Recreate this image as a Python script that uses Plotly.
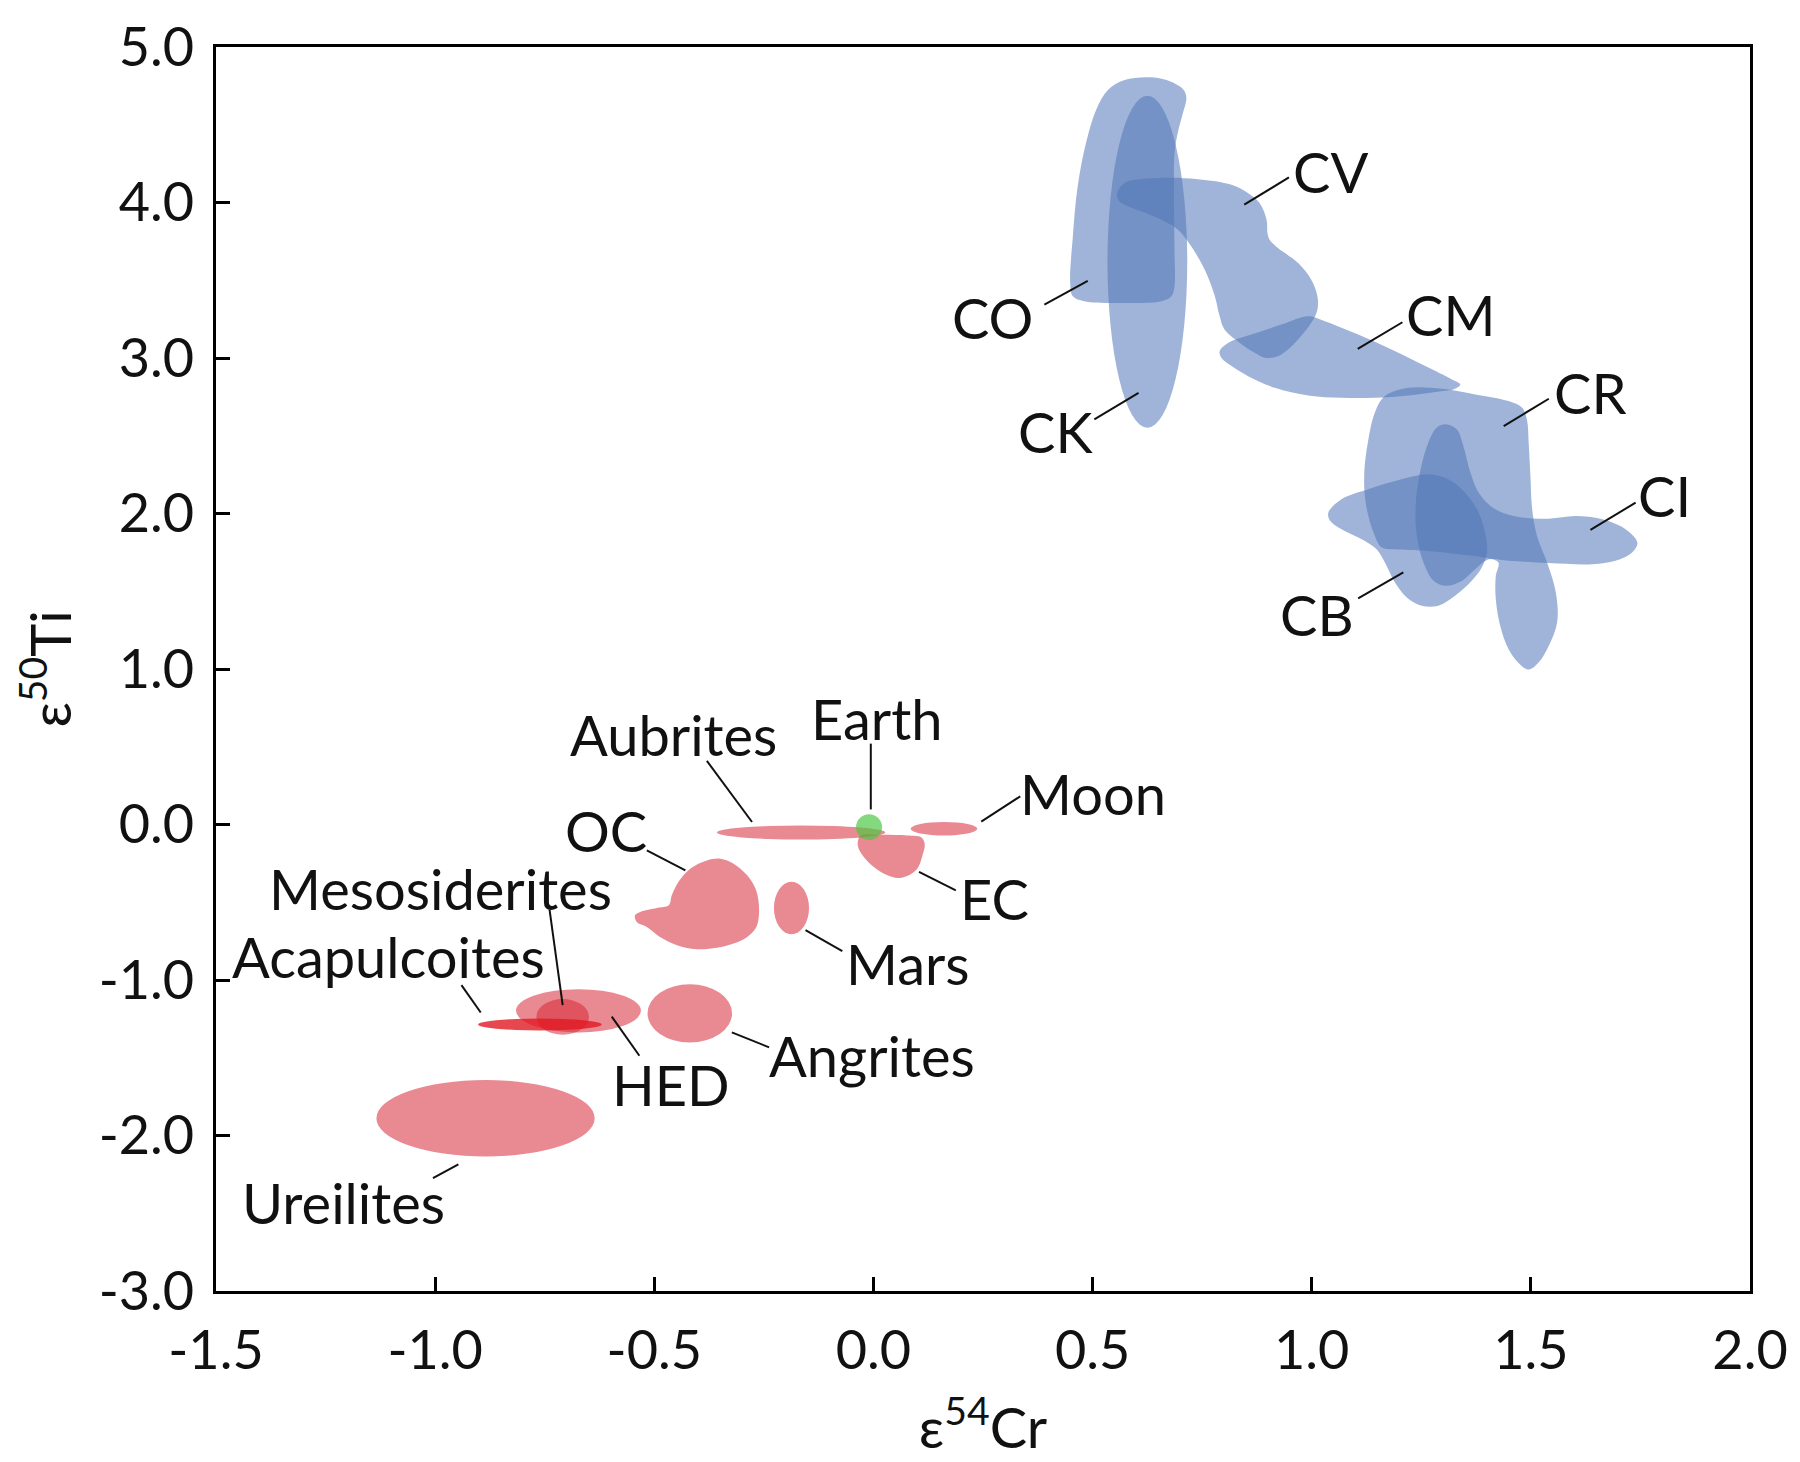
import plotly.graph_objects as go

# --- blob outlines (data coords: eps54Cr, eps50Ti) ---
CO_X = [0.634, 0.679, 0.708, 0.714, 0.706, 0.695, 0.687, 0.686, 0.687, 0.687, 0.680, 0.657,
        0.573, 0.481, 0.455, 0.449, 0.455, 0.466, 0.485, 0.508, 0.535, 0.573]
CO_Y = [4.805, 4.777, 4.724, 4.670, 4.574, 4.456, 4.317, 3.996, 3.675, 3.461, 3.397, 3.365,
        3.354, 3.365, 3.397, 3.483, 3.782, 4.103, 4.382, 4.595, 4.724, 4.788]

CV_X = [0.556, 0.573, 0.649, 0.740, 0.817, 0.855, 0.881, 0.897, 0.899, 0.904, 0.923, 0.969,
        0.999, 1.013, 1.013, 0.999, 0.969, 0.946, 0.923, 0.893, 0.870, 0.836, 0.801, 0.790,
        0.779, 0.756, 0.725, 0.695, 0.664, 0.611, 0.573, 0.558]
CV_Y = [4.060, 4.125, 4.157, 4.150, 4.114, 4.060, 3.996, 3.889, 3.804, 3.761, 3.707, 3.611,
        3.504, 3.397, 3.311, 3.226, 3.119, 3.055, 3.012, 3.001, 3.033, 3.097, 3.183, 3.268,
        3.397, 3.568, 3.718, 3.825, 3.879, 3.943, 3.986, 4.018]

CM_X = [0.790, 0.809, 0.862, 0.931, 0.992, 1.030, 1.106, 1.182, 1.259, 1.320, 1.339, 1.327,
        1.282, 1.221, 1.144, 1.068, 0.992, 0.916, 0.855, 0.817, 0.794]
CM_Y = [3.044, 3.097, 3.151, 3.215, 3.269, 3.237, 3.151, 3.055, 2.948, 2.862, 2.830, 2.802,
        2.781, 2.759, 2.744, 2.744, 2.759, 2.808, 2.883, 2.948, 3.001]

CR_X = [1.167, 1.221, 1.297, 1.373, 1.449, 1.480, 1.491, 1.495, 1.499, 1.503, 1.514, 1.537,
        1.557, 1.560, 1.541, 1.518, 1.495, 1.472, 1.449, 1.430, 1.420, 1.420, 1.426, 1.404,
        1.335, 1.259, 1.190, 1.160, 1.141, 1.123, 1.120, 1.128, 1.144]
CR_Y = [2.755, 2.808, 2.802, 2.766, 2.723, 2.680, 2.605, 2.455, 2.241, 2.027, 1.856, 1.685,
        1.492, 1.300, 1.150, 1.043, 0.996, 1.039, 1.129, 1.278, 1.449, 1.599, 1.685, 1.711,
        1.738, 1.760, 1.770, 1.781, 1.878, 2.070, 2.263, 2.455, 2.648]

CI_X = [1.308, 1.331, 1.346, 1.362, 1.381, 1.419, 1.480, 1.541, 1.602, 1.663, 1.716, 1.743,
        1.731, 1.693, 1.640, 1.541, 1.449, 1.404, 1.373, 1.339, 1.304, 1.278, 1.255, 1.240,
        1.237, 1.247, 1.266, 1.285]
CI_Y = [2.573, 2.541, 2.434, 2.263, 2.134, 2.027, 1.974, 1.967, 1.984, 1.963, 1.899, 1.813,
        1.749, 1.696, 1.674, 1.681, 1.696, 1.706, 1.642, 1.561, 1.535, 1.567, 1.685, 1.856,
        2.049, 2.263, 2.455, 2.552]

CB_X = [1.038, 1.068, 1.129, 1.205, 1.266, 1.312, 1.350, 1.381, 1.397, 1.400, 1.388, 1.365,
        1.327, 1.289, 1.251, 1.217, 1.190, 1.167, 1.148, 1.114, 1.068, 1.042]
CB_Y = [2.006, 2.092, 2.156, 2.220, 2.252, 2.220, 2.134, 2.006, 1.856, 1.749, 1.653, 1.567,
        1.471, 1.407, 1.407, 1.460, 1.556, 1.685, 1.770, 1.835, 1.899, 1.953]

OC_X = [-0.544, -0.532, -0.494, -0.467, -0.460, -0.445, -0.418, -0.380, -0.349, -0.319, -0.288,
        -0.269, -0.262, -0.262, -0.269, -0.288, -0.319, -0.357, -0.403, -0.448, -0.487, -0.517, -0.540]
OC_Y = [-0.584, -0.562, -0.537, -0.520, -0.455, -0.370, -0.284, -0.231, -0.220, -0.252, -0.327,
        -0.413, -0.498, -0.605, -0.669, -0.723, -0.766, -0.793, -0.802, -0.776, -0.723, -0.659, -0.627]

EC_X = [-0.029, 0.016, 0.077, 0.108, 0.117, 0.112, 0.100, 0.077, 0.055, 0.032, 0.001, -0.022, -0.035, -0.035]
EC_Y = [-0.070, -0.066, -0.070, -0.081, -0.124, -0.198, -0.284, -0.331, -0.344, -0.327, -0.273, -0.209, -0.145, -0.102]

BLUE_BLOBS = [("CO", CO_X, CO_Y), ("CV", CV_X, CV_Y), ("CM", CM_X, CM_Y),
              ("CR", CR_X, CR_Y), ("CI", CI_X, CI_Y), ("CB", CB_X, CB_Y)]
RED_BLOBS = [("OC", OC_X, OC_Y), ("EC", EC_X, EC_Y)]

# --- elliptical fields: centre and half-widths ---
ELL_NAME = ["CK", "Aubrites", "Moon", "Mars", "HED", "Mesosiderites", "Acapulcoites", "Angrites", "Ureilites"]
ELL_CX = [0.625, -0.165, 0.161, -0.187, -0.673, -0.709, -0.761, -0.419, -0.885]
ELL_CY = [3.619, -0.051, -0.027, -0.537, -1.198, -1.237, -1.286, -1.215, -1.889]
ELL_RX = [0.091, 0.192, 0.076, 0.040, 0.1425, 0.060, 0.141, 0.0964, 0.249]
ELL_RY = [1.067, 0.045, 0.043, 0.169, 0.139, 0.1145, 0.0385, 0.187, 0.246]
ELL_GROUP = ["blue", "red", "red", "red", "red", "red", "acap", "red", "red"]

EARTH_X = [-0.010]
EARTH_Y = [-0.017]

# --- labels and leader lines ---
LABEL_TEXT = ["CV", "CM", "CR", "CI", "CB", "CO", "CK", "Earth", "Aubrites", "Moon", "EC", "OC",
              "Mars", "Mesosiderites", "Acapulcoites", "HED", "Angrites", "Ureilites"]
LABEL_X = [1.042, 1.316, 1.636, 1.804, 1.012, 0.272, 0.416, 0.007, -0.457, 0.500, 0.276, -0.611,
           0.078, -0.988, -1.107, -0.463, -0.004, -1.209]
LABEL_Y = [4.199, 3.279, 2.777, 2.113, 1.353, 3.262, 2.525, 0.682, 0.579, 0.197, -0.475, -0.040,
           -0.894, -0.409, -0.849, -1.669, -1.485, -2.431]
LEAD_X0 = [0.846, 1.105, 1.438, 1.636, 1.209, 0.390, 0.605, -0.006, -0.380, 0.246, 0.104, -0.517,
           -0.155, -0.739, -0.940, -0.597, -0.323, -0.947]
LEAD_Y0 = [3.986, 3.059, 2.562, 1.894, 1.621, 3.344, 2.776, 0.520, 0.409, 0.019, -0.305, -0.167,
           -0.680, -0.547, -1.033, -1.236, -1.337, -2.185]
LEAD_X1 = [0.948, 1.207, 1.541, 1.739, 1.106, 0.489, 0.504, -0.006, -0.277, 0.335, 0.188, -0.429,
           -0.071, -0.709, -0.896, -0.534, -0.238, -1.005]
LEAD_Y1 = [4.161, 3.230, 2.738, 2.070, 1.454, 3.496, 2.605, 0.097, 0.016, 0.181, -0.423, -0.295,
           -0.815, -1.162, -1.209, -1.487, -1.433, -2.274]

X_TICKS = [-1.5, -1.0, -0.5, 0.0, 0.5, 1.0, 1.5, 2.0]
Y_TICKS = [-3.0, -2.0, -1.0, 0.0, 1.0, 2.0, 3.0, 4.0, 5.0]

BLUE = "rgba(81,118,184,0.55)"
RED = "rgba(215,40,55,0.55)"
ACAP = "rgba(225,25,35,0.8)"
GREEN = "rgba(80,200,70,0.7)"
FONT = "Lato, 'Open Sans', sans-serif"

fig = go.Figure()

for name, xs, ys in BLUE_BLOBS + RED_BLOBS:
    col = BLUE if (name, xs, ys) in BLUE_BLOBS else RED
    fig.add_trace(go.Scatter(
        x=xs + xs[:1], y=ys + ys[:1],
        mode="lines", fill="toself", fillcolor=col,
        line=dict(width=0, shape="spline", smoothing=1.0),
        hoverinfo="skip", showlegend=False, name=name
    ))

colors = {"blue": BLUE, "red": RED, "acap": ACAP}
for i, name in enumerate(ELL_NAME):
    fig.add_shape(
        type="circle", xref="x", yref="y", layer="below",
        x0=ELL_CX[i] - ELL_RX[i], x1=ELL_CX[i] + ELL_RX[i],
        y0=ELL_CY[i] - ELL_RY[i], y1=ELL_CY[i] + ELL_RY[i],
        fillcolor=colors[ELL_GROUP[i]], line=dict(width=0)
    )

fig.add_trace(go.Scatter(
    x=EARTH_X, y=EARTH_Y, mode="markers",
    marker=dict(size=26, color=GREEN, line=dict(width=0)),
    hoverinfo="skip", showlegend=False
))

for i in range(len(LABEL_TEXT)):
    fig.add_trace(go.Scatter(
        x=[LEAD_X0[i], LEAD_X1[i]], y=[LEAD_Y0[i], LEAD_Y1[i]],
        mode="lines", line=dict(color="#111111", width=2),
        hoverinfo="skip", showlegend=False
    ))
    fig.add_annotation(
        x=LABEL_X[i], y=LABEL_Y[i], text=LABEL_TEXT[i], showarrow=False,
        xanchor="center", yanchor="middle",
        font=dict(family=FONT, size=56, color="#111111")
    )

axis_common = dict(
    showline=True, linecolor="black", linewidth=3, mirror=True,
    ticks="inside", ticklen=14, tickwidth=3, tickcolor="black",
    showgrid=False, zeroline=False, automargin=False,
    tickfont=dict(family=FONT, size=54, color="#111111"),
)

fig.update_xaxes(
    range=[-1.5, 2.0], tickvals=X_TICKS, ticktext=[f"{v:.1f}" for v in X_TICKS],
    title=dict(text="ε<sup>54</sup>Cr", font=dict(family=FONT, size=56, color="#111111"), standoff=30),
    ticklabelstandoff=10,
    **axis_common
)
fig.update_yaxes(
    range=[-3.0, 5.0], tickvals=Y_TICKS, ticktext=[f"{v:.1f}" for v in Y_TICKS],
    title=dict(text="ε<sup>50</sup>Ti", font=dict(family=FONT, size=56, color="#111111"), standoff=20),
    ticklabelstandoff=8,
    **axis_common
)

fig.update_layout(
    width=1800, height=1462,
    margin=dict(l=208, r=58, t=39, b=179),
    paper_bgcolor="white", plot_bgcolor="white",
)

fig.write_html("out.html")
